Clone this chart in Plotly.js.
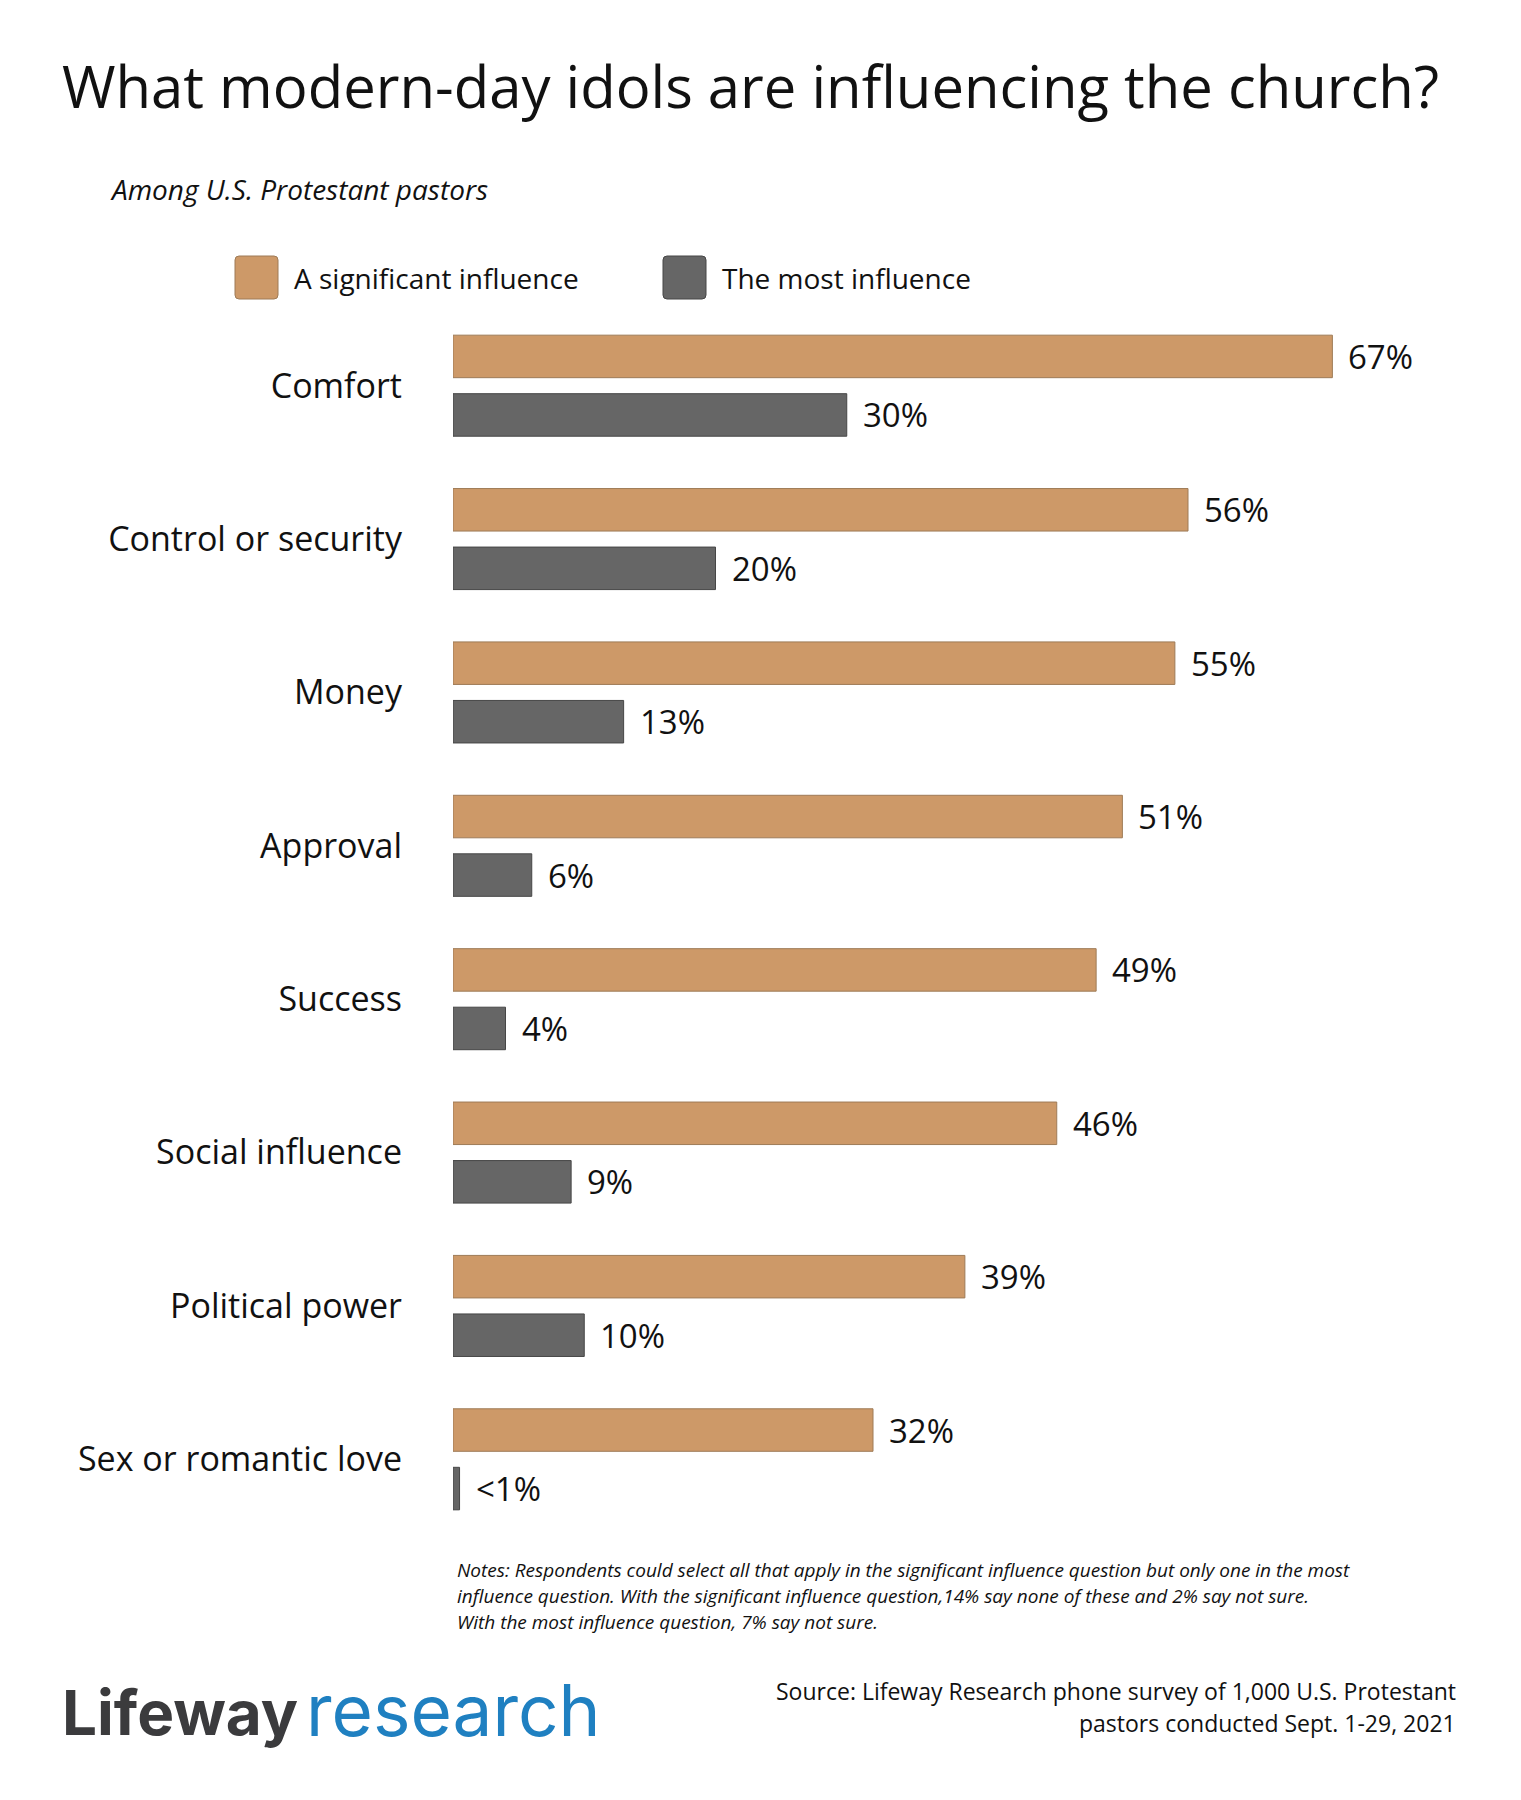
<!DOCTYPE html>
<html>
<head>
<meta charset="utf-8">
<script src="https://cdn.plot.ly/plotly-3.0.1.min.js"></script>
<style>html,body{margin:0;padding:0;background:#fff;}</style>
</head>
<body>
<div id="chart" style="width:1521px;height:1800px;"></div>
<script>
// ---- data ----
const categories = ["Comfort", "Control or security", "Money", "Approval", "Success", "Social influence", "Political power", "Sex or romantic love"];
const significantValues = [67, 56, 55, 51, 49, 46, 39, 32];
const mostValues = [30, 20, 13, 6, 4, 9, 10, 0.5];
const significantLabels = ["67%", "56%", "55%", "51%", "49%", "46%", "39%", "32%"];
const mostLabels = ["30%", "20%", "13%", "6%", "4%", "9%", "10%", "<1%"];
const seriesNames = ["A significant influence", "The most influence"];

// ---- geometry helpers (layout only) ----
const W = 1521, H = 1800;
const M = {l: 453, r: 18, t: 309, b: 264};
const PW = W - M.l - M.r, PH = H - M.t - M.b;
const px2x = p => (p - M.l) / PW;
const px2y = q => (H - M.b - q) / PH;

const ORANGE = "#CD9968", ORANGE_LINE = "#9E7B57";
const GRAY = "#666666", GRAY_LINE = "#464646";
const FONT = "Open Sans";

const traces = [
  {type: "bar", orientation: "h", name: seriesNames[0], y: categories, x: significantValues,
   marker: {color: ORANGE, line: {color: ORANGE_LINE, width: 1}}, hoverinfo: "skip"},
  {type: "bar", orientation: "h", name: seriesNames[1], y: categories, x: mostValues,
   marker: {color: GRAY, line: {color: GRAY_LINE, width: 1}}, hoverinfo: "skip"}
];

const annotations = [];
const groupOffset = 0.1908;
significantValues.forEach((v, i) => annotations.push({
  x: v, y: i - groupOffset, xref: "x", yref: "y", text: significantLabels[i], showarrow: false,
  xanchor: "left", yanchor: "middle", xshift: 14, font: {family: FONT, size: 33, color: "#111"}
}));
mostValues.forEach((v, i) => annotations.push({
  x: v, y: i + groupOffset, xref: "x", yref: "y", text: mostLabels[i], showarrow: false,
  xanchor: "left", yanchor: "middle", xshift: 14, font: {family: FONT, size: 33, color: "#111"}
}));

function txt(text, xp, yp, opts) {
  return Object.assign({
    text: text, x: px2x(xp), y: px2y(yp), xref: "paper", yref: "paper", showarrow: false,
    xanchor: "left", yanchor: "middle", font: {family: FONT, size: 20, color: "#111"}
  }, opts || {});
}

// subtitle
annotations.push(txt("Among U.S. Protestant pastors", 108, 189, {font: {family: FONT, size: 28, color: "#111", style: "italic"}}));
// legend texts
annotations.push(txt(seriesNames[0], 292, 278, {font: {family: FONT, size: 28, color: "#111"}}));
annotations.push(txt(seriesNames[1], 720, 278, {font: {family: FONT, size: 28, color: "#111"}}));
// notes
const noteLines = [
  "Notes: Respondents could select all that apply in the significant influence question but only one in the most",
  "influence question. With the significant influence question,14% say none of these and 2% say not sure.",
  "With the most influence question, 7% say not sure."
];
const noteY = [1570, 1596, 1622];
noteLines.forEach((t, i) => annotations.push(txt(t, 455, noteY[i], {font: {family: FONT, size: 19, color: "#111", style: "italic"}})));
// source
annotations.push(txt("Source: Lifeway Research phone survey of 1,000 U.S. Protestant", 1458, 1691, {xanchor: "right", font: {family: FONT, size: 23, color: "#111"}}));
annotations.push(txt("pastors conducted Sept. 1-29, 2021", 1458, 1723, {xanchor: "right", font: {family: FONT, size: 23, color: "#111"}}));
// logo
annotations.push(txt("Lifeway", 60, 1712, {font: {family: "Inter", size: 62, color: "#3B3B3D", weight: 700}}));
annotations.push(txt("research", 304, 1710, {font: {family: "Inter", size: 71, color: "#1F80C1", weight: 400}}));

function roundRect(x0, y0, x1, y1, r) {
  const X = px2x, Y = px2y;
  return `M${X(x0 + r)},${Y(y0)} L${X(x1 - r)},${Y(y0)} Q${X(x1)},${Y(y0)} ${X(x1)},${Y(y0 + r)} ` +
         `L${X(x1)},${Y(y1 - r)} Q${X(x1)},${Y(y1)} ${X(x1 - r)},${Y(y1)} ` +
         `L${X(x0 + r)},${Y(y1)} Q${X(x0)},${Y(y1)} ${X(x0)},${Y(y1 - r)} ` +
         `L${X(x0)},${Y(y0 + r)} Q${X(x0)},${Y(y0)} ${X(x0 + r)},${Y(y0)} Z`;
}
const shapes = [
  {type: "path", xref: "paper", yref: "paper", path: roundRect(235, 256, 278, 299, 4), fillcolor: ORANGE, line: {color: ORANGE_LINE, width: 1}},
  {type: "path", xref: "paper", yref: "paper", path: roundRect(663, 256, 706, 299, 4), fillcolor: GRAY, line: {color: GRAY_LINE, width: 1}}
];

const layout = {
  width: W, height: H,
  margin: M,
  paper_bgcolor: "#fff", plot_bgcolor: "#fff",
  showlegend: false,
  barmode: "group",
  bargap: 0.2368,
  bargroupgap: 0.2735,
  title: {
    text: "What modern-day idols are influencing the church?",
    xref: "container", yref: "container",
    x: 62 / W, xanchor: "left",
    y: 1 - 88 / H, yanchor: "middle",
    font: {family: FONT, size: 58, color: "#111"}
  },
  xaxis: {range: [0, 80], visible: false, fixedrange: true},
  yaxis: {
    type: "category", range: [categories.length - 0.5, -0.5],
    showgrid: false, zeroline: false, showline: false, ticks: "",
    ticklabelstandoff: 50,
    tickfont: {family: FONT, size: 34, color: "#111"},
    fixedrange: true
  },
  annotations: annotations,
  shapes: shapes
};

Plotly.newPlot("chart", traces, layout, {displayModeBar: false, staticPlot: true});
</script>
</body>
</html>
